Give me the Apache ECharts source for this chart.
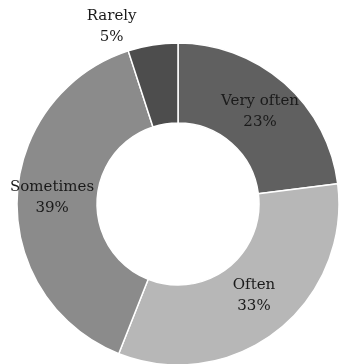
<!DOCTYPE html>
<html>
<head>
<meta charset="utf-8">
<style>
  html, body { margin: 0; padding: 0; background: #fff; }
  #chart { width: 344px; height: 364px; }
</style>
<script src="https://cdn.jsdelivr.net/npm/echarts@6/dist/echarts.min.js"></script>
</head>
<body>
<div id="chart"></div>
<script>
// Answer categories and their shares (percent)
const categories = ['Very often', 'Often', 'Sometimes', 'Rarely'];
const shares = [23, 33, 39, 5];
const colors = ['#606060', '#b7b7b7', '#8b8b8b', '#4d4d4d'];

const chart = echarts.init(document.getElementById('chart'), null, { renderer: 'canvas' });

// label nudges per category, relative to the slice centre
const labelOffsets = {
  'Very often': [0, 1],
  'Often': [0, -6],
  'Sometimes': [-2, -2],
  'Rarely': [-47, -55]   // small slice: label sits above the ring
};

const data = categories.map((name, i) => ({
  name: name,
  value: shares[i],
  itemStyle: { color: colors[i] },
  label: { offset: labelOffsets[name] }
}));

chart.setOption({
  animation: false,
  series: [{
    type: 'pie',
    center: [178, 204],
    radius: [81, 161],
    startAngle: 90,
    clockwise: true,
    avoidLabelOverlap: false,
    itemStyle: { borderColor: '#ffffff', borderWidth: 1.5 },
    label: {
      show: true,
      position: 'inside',
      formatter: p => p.name + '\n' + p.value + '%',
      fontFamily: 'DejaVu Serif',
      fontSize: 15,
      lineHeight: 21,
      color: '#1a1a1a',
      align: 'center'
    },
    labelLine: { show: false },
    data: data
  }]
});
</script>
</body>
</html>
